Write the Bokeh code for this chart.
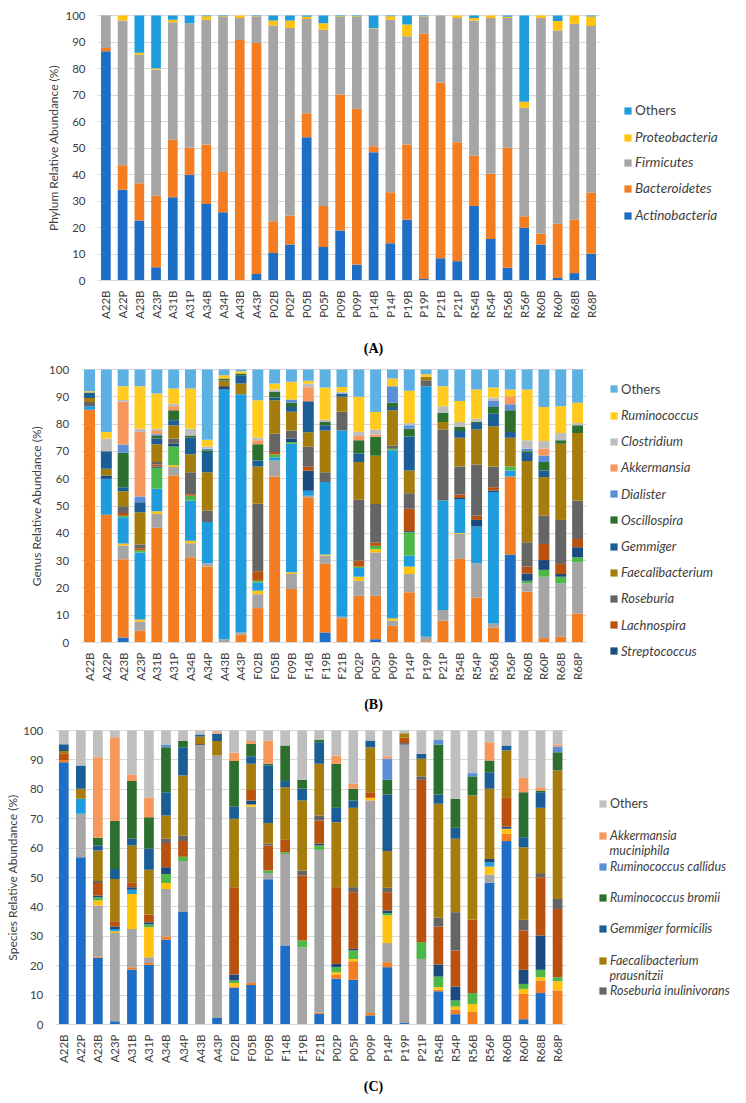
import math
from bokeh.plotting import figure
from bokeh.models import (ColumnDataSource, Range1d, FixedTicker, Legend, LegendItem, Label)
from bokeh.core.properties import value
from bokeh.layouts import column
from bokeh.embed import file_html
from bokeh.resources import INLINE

FONT = "Lato"
TXT = "#404040"

# ---------------- (A) Phylum ----------------
phylum_samples = ["A22B", "A22P", "A23B", "A23P", "A31B", "A31P", "A34B", "A34P", "A43B", "A43P",
                  "P02B", "P02P", "P05B", "P05P", "P09B", "P09P", "P14B", "P14P", "P19B", "P19P",
                  "P21B", "P21P", "R54B", "R54P", "R56B", "R56P", "R60B", "R60P", "R68B", "R68P"]
actinobacteria = [86.5, 34.2, 22.6, 5.0, 31.4, 39.9, 28.9, 25.8, 0, 2.5,
                  10.4, 13.6, 54.1, 12.6, 18.9, 6.0, 48.4, 14.1, 22.9, 0.6,
                  8.4, 7.3, 28.1, 15.7, 4.8, 19.9, 13.6, 1.0, 2.8, 10.1]
bacteroidetes = [1.2, 9.3, 14.1, 27.1, 21.7, 10.2, 22.4, 15.1, 90.8, 87.1,
                 12.0, 10.9, 9.0, 15.5, 51.3, 58.8, 2.3, 19.2, 28.4, 92.5,
                 66.3, 44.9, 19.1, 24.6, 45.3, 4.3, 4.0, 20.4, 20.1, 23.0]
firmicutes = [12.3, 54.6, 48.5, 47.5, 44.4, 46.8, 47.1, 58.5, 8.3, 10.1,
              73.8, 70.8, 35.6, 66.5, 29.2, 34.6, 44.3, 65.1, 40.9, 6.6,
              25.3, 46.9, 50.9, 58.8, 49.0, 41.0, 81.5, 72.9, 74.0, 62.9]
proteobacteria = [0, 1.9, 0.7, 0.5, 0.9, 0.1, 1.3, 0.3, 0.9, 0.1,
                  1.9, 2.8, 0.8, 2.5, 0.3, 0.3, 0.2, 1.3, 4.4, 0.1,
                  0, 0.9, 1.0, 0.9, 0.4, 2.3, 0.9, 3.6, 3.1, 3.6]
phylum_others = [0, 0, 14.1, 19.9, 1.6, 3.0, 0.3, 0.3, 0, 0.2,
                 1.9, 1.9, 0.5, 2.9, 0.3, 0.3, 4.8, 0.3, 3.4, 0.2,
                 0, 0, 0.9, 0, 0.5, 32.5, 0, 2.1, 0, 0.4]
phylum_colors = ["#1F6EC6", "#F57D21", "#A5A5A5", "#FFC20E", "#1E9CDD"]

# ---------------- (B) Genus ----------------
genus_samples = ["A22B", "A22P", "A23B", "A23P", "A31B", "A31P", "A34B", "A34P", "A43B", "A43P",
                 "F02B", "F05B", "F09B", "F14B", "F19B", "F21B", "P02P", "P05P", "P09P", "P14P",
                 "P19P", "P21P", "R54B", "R54P", "R56B", "R56P", "R60B", "R60P", "R68B", "R68P"]
g_unlisted_1 = [0, 0, 1.8, 0, 0, 0, 0, 0, 0, 0, 0, 0.4, 0, 0, 3.7, 0, 0, 1.2, 0, 0,
                0, 0, 0, 0, 0, 32.2, 0, 0, 0, 0]
g_unlisted_2 = [85.3, 46.8, 28.7, 4.3, 42.0, 61.2, 31.2, 27.8, 0, 2.8,
                12.6, 60.4, 19.6, 53.2, 25.1, 8.9, 17.1, 15.9, 6.1, 18.4,
                0.5, 8.0, 30.6, 16.5, 5.5, 28.6, 18.6, 1.6, 2.1, 10.6]
g_unlisted_3 = [0, 0, 5.0, 3.4, 5.1, 3.1, 5.2, 1.2, 1.2, 0.9,
                5.1, 5.9, 5.5, 0.6, 3.0, 0.5, 5.5, 15.9, 1.9, 6.7,
                1.6, 3.9, 9.2, 12.5, 1.5, 0, 3.1, 22.5, 19.6, 18.8]
g_unlisted_4 = [0, 0, 0.8, 0.7, 1.0, 0.6, 0.9, 0, 0, 0,
                1.3, 0, 0.6, 0, 0.4, 0, 1.5, 1.2, 0.9, 2.7,
                0, 0, 0.3, 0, 0, 0, 0, 0, 0, 0]
g_unlisted_5 = [1.2, 13.2, 9.6, 24.6, 8.2, 0, 14.7, 15.1, 91.5, 87.2,
                3.0, 1.2, 47.1, 1.8, 26.6, 68.3, 3.2, 0, 61.5, 4.0,
                91.8, 40.1, 12.5, 13.5, 48.1, 2.2, 0, 0, 0, 0]
g_unlisted_6 = [0, 0, 0.5, 0.7, 7.7, 6.9, 1.8, 0, 0, 0,
                0.6, 1.0, 0.6, 0, 0, 0, 0.5, 1.2, 0.6, 8.6,
                0, 0, 0, 0, 0, 1.5, 0.9, 2.5, 2.4, 1.8]
streptococcus = [0, 1.2, 0, 0, 0.5, 1.0, 0, 0, 0.9, 0,
                 0, 0, 1.3, 7.3, 0, 0, 0, 0, 0, 0.4,
                 0, 0, 0.3, 2.4, 0.6, 0, 2.7, 3.6, 1.0, 3.7]
lachnospira = [0, 0, 1.0, 0.8, 0.7, 0, 0.5, 0, 0, 0,
               3.5, 0.9, 0, 1.5, 0, 0, 2.2, 1.2, 0, 8.2,
               0, 0, 1.3, 1.6, 1.2, 0, 2.5, 5.9, 3.7, 3.0]
roseburia = [1.6, 0, 2.5, 1.4, 0.9, 1.9, 8.1, 4.2, 0.4, 0,
             24.7, 6.7, 3.0, 7.3, 3.6, 6.8, 22.3, 14.1, 1.2, 5.7,
             2.2, 26.0, 10.3, 18.7, 7.6, 0, 8.9, 10.4, 16.1, 14.1]
faecalibacterium = [1.5, 2.4, 5.5, 11.8, 6.5, 4.9, 6.6, 14.1, 2.0, 4.0,
                    13.7, 12.2, 6.8, 5.3, 15.3, 5.5, 13.8, 17.7, 12.9, 8.3,
                    1.2, 2.8, 10.5, 12.8, 14.7, 10.5, 29.8, 14.1, 27.9, 24.7]
gemmiger = [2.0, 6.5, 1.5, 3.7, 2.1, 1.8, 6.0, 7.4, 0, 3.0,
            2.2, 1.0, 1.8, 11.4, 1.9, 1.2, 3.1, 0, 1.2, 12.5,
            0, 0, 2.5, 2.4, 4.6, 2.1, 2.9, 2.4, 0, 0]
oscillospira = [0, 0, 12.6, 0, 0.9, 3.7, 0.8, 0.6, 0.7, 0.6,
                5.9, 2.1, 1.5, 0, 1.2, 0, 4.9, 7.0, 1.5, 2.8,
                0, 3.3, 1.4, 0.4, 2.5, 8.0, 0.7, 3.1, 1.3, 2.9]
dialister = [0, 0, 3.0, 2.1, 0.7, 0, 0, 0.6, 0, 0,
             0, 0, 1.2, 0, 0, 0, 0, 0, 6.1, 1.3,
             0, 0, 0, 0, 2.2, 2.2, 0.9, 2.4, 0, 0]
akkermansia = [0, 0, 15.7, 23.6, 1.2, 1.4, 0, 0, 0, 0,
               1.5, 0, 0, 5.1, 0, 0, 1.5, 0.8, 0, 0,
               0, 0, 0, 0, 0, 2.9, 0, 2.5, 0, 0]
clostridium = [0, 4.6, 0.6, 1.2, 0.8, 1.0, 2.5, 0.8, 0, 0,
               0.9, 0.9, 0, 1.3, 0.8, 0.6, 1.6, 1.8, 0, 0.8,
               0, 2.4, 1.9, 1.2, 1.2, 0, 3.1, 2.8, 2.6, 0.8]
ruminococcus = [0.4, 2.4, 5.1, 15.6, 12.9, 5.5, 14.7, 2.5, 1.2, 0.9,
                13.7, 2.2, 6.5, 1.1, 11.8, 1.8, 12.8, 6.4, 2.8, 11.8,
                1.0, 7.4, 7.7, 10.7, 3.7, 2.5, 18.6, 12.5, 9.8, 7.4]
genus_others = [8.0, 22.9, 6.1, 6.1, 8.8, 7.0, 7.0, 25.7, 2.1, 0.6,
                11.3, 5.1, 4.5, 4.1, 6.6, 6.4, 10.0, 15.6, 3.3, 7.8,
                1.7, 6.1, 11.5, 7.3, 6.6, 7.3, 7.3, 13.7, 13.5, 12.2]
genus_names = ["", "", "", "", "", "", "Streptococcus", "Lachnospira", "Roseburia",
               "Faecalibacterium", "Gemmiger", "Oscillospira", "Dialister", "Akkermansia",
               "Clostridium", "Ruminococcus", "Others"]
palette = ["#1F6EC6", "#F57D21", "#A5A5A5", "#FFC20E", "#1E9CDD", "#4DB748",
           "#1B4A7E", "#B9520F", "#656565", "#A67C0C", "#1A5E95", "#2D6F2E",
           "#5A8FD8", "#F8975C", "#BDBDBD", "#FFCB1F", "#5CB0E2"]

# ---------------- (C) Species ----------------
species_samples = list(genus_samples)
sp_unlisted_1 = [89.2, 56.9, 22.7, 1.1, 18.7, 20.3, 28.9, 38.3, 0, 2.2,
                 12.5, 13.4, 49.4, 26.9, 0, 3.6, 15.6, 15.2, 3.1, 19.5,
                 0.5, 0, 11.3, 3.5, 0, 48.2, 62.4, 1.8, 10.7, 0]
sp_unlisted_2 = [0.8, 0, 0.4, 0, 0.8, 0.6, 1.0, 0, 0, 0,
                 0.4, 0.7, 0, 0, 0, 0.4, 1.4, 6.3, 0.8, 1.7,
                 0, 0, 0.5, 1.5, 4.3, 0, 2.5, 8.6, 4.3, 11.6]
sp_unlisted_3 = [0, 14.8, 17.4, 30.0, 13.0, 2.0, 16.2, 17.3, 95.0, 89.3,
                 0, 60.0, 2.1, 31.1, 26.2, 55.4, 0, 0, 72.3, 6.5,
                 94.7, 22.3, 0, 0, 0, 2.8, 0, 0, 0, 0]
sp_unlisted_4 = [0, 0, 1.7, 0.6, 11.9, 10.2, 2.0, 0, 0, 0,
                 1.2, 0.7, 0, 0, 0, 0, 0.8, 0.8, 0.9, 9.4,
                 0, 0, 0.9, 1.1, 2.7, 2.7, 1.7, 1.7, 1.1, 3.1]
sp_unlisted_5 = [0, 5.1, 0, 0.8, 1.4, 0, 0, 0, 0, 0,
                 0, 0, 0, 0, 0, 0, 0, 0, 0, 0,
                 0, 0, 0, 0, 0, 1.5, 0, 0, 0, 0]
sp_unlisted_6 = [0, 0, 1.1, 0, 0, 0.9, 3.1, 1.5, 0, 0,
                 0.9, 0, 0.9, 0.6, 2.4, 1.5, 1.7, 2.9, 0, 0.8,
                 0, 5.7, 3.6, 2.1, 3.7, 0, 0, 1.7, 2.5, 1.4]
sp_unlisted_7 = [0, 0, 0.6, 0.8, 0.9, 0.8, 2.3, 0, 0, 0,
                 2.0, 1.4, 0, 0, 0, 0.6, 1.1, 0.5, 0, 0.9,
                 0.5, 0, 4.1, 4.7, 0, 1.1, 0.7, 4.8, 11.7, 0]
sp_unlisted_8 = [2.3, 0, 4.2, 1.8, 1.7, 2.6, 8.2, 5.3, 0, 0,
                 29.7, 3.6, 8.5, 4.2, 22.1, 7.9, 26.1, 19.3, 1.9, 6.2,
                 1.8, 55.2, 12.9, 12.3, 24.9, 0, 10.0, 13.4, 19.8, 23.2]
r_inulinivorans = [0, 0, 0.7, 0, 0, 0, 1.5, 1.9, 0.4, 0,
                   0, 0, 0.6, 0, 1.7, 1.7, 0, 1.7, 0, 1.5,
                   0, 1.2, 3.0, 13.0, 0, 0, 0, 3.6, 1.4, 3.4]
f_prausnitzii = [0.7, 3.4, 10.4, 14.4, 12.5, 15.2, 7.9, 20.4, 2.6, 4.9,
                 23.3, 8.9, 7.0, 17.9, 23.8, 17.6, 22.1, 27.0, 15.3, 12.5,
                 1.6, 6.0, 38.8, 25.0, 42.3, 23.9, 15.9, 24.7, 22.2, 43.7]
g_formicilis = [2.3, 7.9, 1.7, 3.4, 2.3, 7.2, 7.9, 9.6, 0.6, 2.5,
                4.1, 2.5, 19.6, 2.1, 4.0, 7.3, 4.9, 2.5, 2.3, 19.2,
                0, 1.7, 3.1, 3.7, 0, 5.6, 1.7, 3.4, 5.3, 0]
r_bromii = [0, 0, 2.6, 16.3, 19.6, 10.7, 15.3, 2.1, 0, 0,
            15.5, 4.3, 0.6, 12.1, 3.0, 0.8, 15.0, 4.0, 0, 5.0,
            0, 0, 17.0, 9.9, 6.5, 4.0, 0, 15.3, 0.6, 6.2]
r_callidus = [0, 0, 0, 0, 0, 0, 0.9, 0, 0, 0,
              0, 0, 0, 0, 0, 0, 0, 0, 0, 7.2,
              0, 0, 1.6, 0, 1.1, 0, 0, 0, 0, 2.0]
a_muciniphila = [0, 0, 27.4, 28.5, 2.2, 6.6, 0, 0, 0, 0.5,
                 2.8, 0.9, 7.9, 0, 0, 0, 2.8, 1.7, 0, 0.8,
                 0, 0, 0, 0, 0, 6.2, 0, 4.9, 1.1, 0.6]
species_others = [4.7, 11.9, 9.1, 2.3, 15.0, 22.9, 4.8, 3.6, 1.4, 0.6,
                  7.6, 3.6, 3.4, 5.1, 16.8, 3.2, 8.5, 18.1, 3.4, 8.8,
                  0.9, 7.9, 3.2, 23.2, 14.5, 4.0, 5.1, 16.1, 19.3, 4.8]
species_colors = palette[:14] + ["#BFBFBF"]

PAGE_L, PAGE_R = 0, 746


def make_panel(cats, series, colors, ylabel, geom, bar_w, title_x, letter, letter_y,
               legend_spec, leg_x, leg_fs, extra_lines, text_x):
    top_pg, H, x0_pg, x1_pg, y100_pg, y0_pg = geom
    n = len(cats)
    ppu = (x1_pg - x0_pg) / n
    ppy = (y0_pg - y100_pg) / 100.0
    x_lo = -(x0_pg - PAGE_L) / ppu
    x_hi = n + (PAGE_R - x1_pg) / ppu
    y_hi = 100 + (y100_pg - top_pg) / ppy
    y_lo = -(top_pg + H - y0_pg) / ppy
    pos = [i + 0.5 for i in range(n)]
    keys = ["k%d" % i for i in range(len(series))]
    data = {"pos": pos, "sample": cats}
    for k, s in zip(keys, series):
        data[k] = s
    src = ColumnDataSource(data)
    p = figure(x_range=Range1d(x_lo, x_hi), y_range=Range1d(y_lo, y_hi),
               frame_width=PAGE_R - PAGE_L, frame_height=H, min_border=0,
               output_backend="svg", toolbar_location=None, tools="")
    p.outline_line_color = None
    p.background_fill_color = "white"
    p.border_fill_color = "white"
    rs = p.vbar_stack(stackers=keys, x="pos", width=bar_w, fill_color=colors,
                      line_color=None, source=src)
    p.xgrid.grid_line_color = None
    p.ygrid.grid_line_color = "#D9D9D9"
    p.ygrid.grid_line_width = 1
    p.ygrid.cross_bounds = (0, n)
    ya = p.yaxis[0]
    ya.fixed_location = 0
    ya.bounds = (0, 100)
    ya.ticker = FixedTicker(ticks=list(range(0, 101, 10)))
    ya.axis_line_color = None
    ya.major_tick_line_color = None
    ya.major_tick_out = 0
    ya.major_tick_in = 0
    ya.minor_tick_line_color = None
    ya.major_label_standoff = 12
    ya.major_label_text_font = FONT
    ya.major_label_text_font_size = "11.5px"
    ya.major_label_text_color = TXT
    xa = p.xaxis[0]
    xa.fixed_location = 0
    xa.bounds = (0, n)
    xa.ticker = FixedTicker(ticks=pos)
    xa.major_label_overrides = {pp: c for pp, c in zip(pos, cats)}
    xa.axis_line_color = "#D9D9D9"
    xa.major_tick_line_color = None
    xa.major_tick_out = 0
    xa.major_tick_in = 0
    xa.minor_tick_line_color = None
    xa.major_label_orientation = math.pi / 2
    xa.major_label_standoff = 10
    xa.major_label_text_font = FONT
    xa.major_label_text_font_size = "11.5px"
    xa.major_label_text_color = TXT

    bottom_pg = top_pg + H
    # y-axis title
    p.add_layout(Label(x=title_x - PAGE_L, y=bottom_pg - (y100_pg + y0_pg) / 2.0,
                       x_units="screen", y_units="screen", angle=math.pi / 2,
                       text=ylabel, text_font=FONT, text_font_size="12px", text_color=TXT,
                       text_align="center", text_baseline="middle"))
    fs = "%spx" % leg_fs
    leg_h = 1.2 * leg_fs
    for idx, text, italic, cy in legend_spec:
        leg = Legend(items=[LegendItem(label=value(text), renderers=[rs[idx]])],
                     location=(leg_x - PAGE_L, bottom_pg - cy - leg_h / 2),
                     orientation="vertical", padding=0, margin=0, spacing=0,
                     border_line_color=None, background_fill_alpha=0,
                     glyph_width=9, glyph_height=9, label_standoff=3, label_height=9,
                     label_text_font=FONT, label_text_font_size=fs,
                     label_text_font_style="italic" if italic else "normal",
                     label_text_color=TXT)
        p.add_layout(leg)
    for text, cy in extra_lines:
        p.add_layout(Label(x=text_x - PAGE_L, y=bottom_pg - cy, x_units="screen",
                           y_units="screen", text=text, text_font=FONT,
                           text_font_size=fs, text_font_style="italic",
                           text_color=TXT, text_align="left", text_baseline="middle"))
    p.add_layout(Label(x=373 - PAGE_L, y=bottom_pg - letter_y, x_units="screen",
                       y_units="screen", text=letter, text_font="Liberation Serif",
                       text_font_size="14px", text_font_style="bold", text_color="black",
                       text_align="center", text_baseline="middle"))
    return p


# panel A
pa_series = [actinobacteria, bacteroidetes, firmicutes, proteobacteria, phylum_others]
legA = [(4, "Others", False, 110), (3, "Proteobacteria", True, 137), (2, "Firmicutes", True, 162),
        (1, "Bacteroidetes", True, 188), (0, "Actinobacteria", True, 215)]
pA = make_panel(phylum_samples, pa_series, phylum_colors, "Phylum Relative Abundance (%)",
                (0, 358, 97, 599, 15, 280), 0.58, 53, "(A)", 348, legA, 623, 13.5, [], 635)

# panel B
pb_series = [g_unlisted_1, g_unlisted_2, g_unlisted_3, g_unlisted_4, g_unlisted_5, g_unlisted_6,
             streptococcus, lachnospira, roseburia, faecalibacterium, gemmiger, oscillospira,
             dialister, akkermansia, clostridium, ruminococcus, genus_others]
legB = []
for j, idx in enumerate(range(16, 5, -1)):
    legB.append((idx, genus_names[idx], genus_names[idx] != "Others", 389 + 26.2 * j))
pB = make_panel(genus_samples, pb_series, palette, "Genus Relative Abundance (%)",
                (358, 354, 80.6, 585.5, 369, 642), 0.65, 36, "(B)", 704, legB, 609,
                13, [], 621)

# panel C
pc_series = [sp_unlisted_1, sp_unlisted_2, sp_unlisted_3, sp_unlisted_4, sp_unlisted_5,
             sp_unlisted_6, sp_unlisted_7, sp_unlisted_8, r_inulinivorans, f_prausnitzii,
             g_formicilis, r_bromii, r_callidus, a_muciniphila, species_others]
legC = [(14, "Others", False, 803), (13, "Akkermansia", True, 835),
        (12, "Ruminococcus callidus", True, 866), (11, "Ruminococcus bromii", True, 897),
        (10, "Gemmiger formicilis", True, 928), (9, "Faecalibacterium", True, 960),
        (8, "Roseburia inulinivorans", True, 990)]
extraC = [("muciniphila", 850), ("prausnitzii", 975)]
pC = make_panel(species_samples, pc_series, species_colors, "Species Relative Abundance (%)",
                (712, 383, 54.8, 565.6, 730, 1024), 0.57, 12, "(C)", 1086, legC, 598,
                12.5, extraC, 609)

layout = column(pA, pB, pC, spacing=0)
open("out.html", "w").write(file_html(layout, INLINE))
